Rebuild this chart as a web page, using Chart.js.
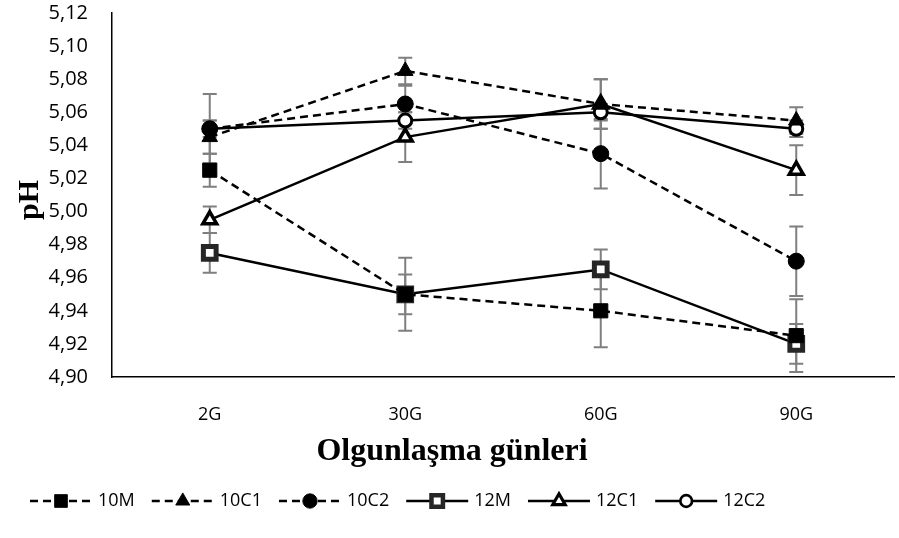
<!DOCTYPE html>
<html><head><meta charset="utf-8">
<script src="https://cdn.jsdelivr.net/npm/chart.js@4"></script>
<style>html,body{margin:0;padding:0;background:#fff}#wrap{width:899px;height:538px}</style>
</head><body><div id="wrap"><canvas id="c" width="899" height="538"></canvas></div>
<script>
const categories = ['2G', '30G', '60G', '90G'];
const seriesNames = ['10M', '10C1', '10C2', '12M', '12C1', '12C2'];
const v10M  = [5.025, 4.950, 4.940, 4.925];
const v10C1 = [5.045, 5.085, 5.065, 5.055];
const v10C2 = [5.050, 5.065, 5.035, 4.970];
const v12M  = [4.975, 4.950, 4.965, 4.920];
const v12C1 = [4.995, 5.045, 5.065, 5.025];
const v12C2 = [5.050, 5.055, 5.060, 5.050];
const e10M  = [0.010, 0.022, 0.022, 0.022];
const e10C1 = [0.010, 0.008, 0.015, 0.008];
const e10C2 = [0.021, 0.011, 0.021, 0.021];
const e12M  = [0.012, 0.012, 0.012, 0.012];
const e12C1 = [0.008, 0.015, 0.015, 0.015];
const e12C2 = [0.005, 0.005, 0.005, 0.005];
const yMin = 4.90, yMax = 5.12, yStep = 0.02;
const yTitle = 'pH';
const xTitle = 'Olgunlaşma günleri';

const values = [v10M, v10C1, v10C2, v12M, v12C1, v12C2];
const errors = [e10M, e10C1, e10C2, e12M, e12C1, e12C2];
const styles = [
  {dash:[8,5], point:'rect', r:10, bg:'#000', bc:'#000', bw:1},
  {dash:[8,5], point:'triangle', r:9, bg:'#000', bc:'#000', bw:1},
  {dash:[8,5], point:'circle', r:8, bg:'#000', bc:'#000', bw:1},
  {dash:[], point:'rect', r:9, bg:'#fff', bc:'#262626', bw:5},
  {dash:[], point:'triangle', r:8, bg:'#fff', bc:'#000', bw:3.5},
  {dash:[], point:'circle', r:6.5, bg:'#fff', bc:'#000', bw:3}
];

const datasets = seriesNames.map((n, i) => ({
  label: n,
  data: values[i],
  errors: errors[i],
  borderColor: '#000',
  borderWidth: 2.5,
  borderDash: styles[i].dash,
  pointStyle: styles[i].point,
  pointRadius: styles[i].r,
  pointBackgroundColor: styles[i].bg,
  pointBorderColor: styles[i].bc,
  pointBorderWidth: styles[i].bw,
  fill: false,
  tension: 0
}));

function drawMarker(ctx, st, x, y, k) {
  ctx.save();
  ctx.setLineDash([]);
  ctx.fillStyle = st.bg; ctx.strokeStyle = st.bc; ctx.lineWidth = st.bw * k;
  const r = st.r * k;
  ctx.beginPath();
  if (st.point === 'rect') {
    const s = Math.SQRT1_2 * r;
    ctx.rect(x - s, y - s, 2 * s, 2 * s);
  } else if (st.point === 'triangle') {
    let rad = 0;
    ctx.moveTo(x + Math.sin(rad) * r, y - Math.cos(rad) * r);
    rad += 2 * Math.PI / 3;
    ctx.lineTo(x + Math.sin(rad) * r, y - Math.cos(rad) * r);
    rad += 2 * Math.PI / 3;
    ctx.lineTo(x + Math.sin(rad) * r, y - Math.cos(rad) * r);
    ctx.closePath();
  } else {
    ctx.arc(x, y, r, 0, Math.PI * 2);
  }
  ctx.fill(); ctx.stroke();
  ctx.restore();
}

const errorBars = {
  id: 'errorBars',
  beforeDatasetsDraw(chart) {
    const {ctx, scales: {x, y}} = chart;
    ctx.save();
    ctx.strokeStyle = '#7f7f7f'; ctx.lineWidth = 2; ctx.setLineDash([]);
    chart.data.datasets.forEach(ds => {
      ds.data.forEach((v, i) => {
        const e = ds.errors[i];
        const px = x.getPixelForValue(i);
        const t = y.getPixelForValue(v + e), b = y.getPixelForValue(v - e);
        ctx.beginPath();
        ctx.moveTo(px, t); ctx.lineTo(px, b);
        ctx.moveTo(px - 7, t); ctx.lineTo(px + 7, t);
        ctx.moveTo(px - 7, b); ctx.lineTo(px + 7, b);
        ctx.stroke();
      });
    });
    ctx.restore();
  }
};

const titlesAndLegend = {
  id: 'titlesAndLegend',
  afterDraw(chart) {
    const ctx = chart.ctx;
    ctx.save();
    ctx.fillStyle = '#000';
    ctx.textAlign = 'center'; ctx.textBaseline = 'middle';
    ctx.font = 'bold 32px "Liberation Serif"';
    ctx.fillText(xTitle, 452, 452);
    ctx.save();
    ctx.translate(30, 200);
    ctx.rotate(-Math.PI / 2);
    ctx.font = 'bold 30px "Liberation Serif"';
    ctx.fillText(yTitle, 0, 0);
    ctx.restore();
    ctx.font = '18px "Open Sans"';
    const lineLen = 62, gapText = 6, gapItem = 17;
    const widths = seriesNames.map(n => lineLen + gapText + ctx.measureText(n).width);
    let x = 30;
    const y = 501;
    seriesNames.forEach((n, i) => {
      const st = styles[i];
      ctx.strokeStyle = '#000'; ctx.lineWidth = 2.5; ctx.setLineDash(st.dash);
      ctx.beginPath(); ctx.moveTo(x, y); ctx.lineTo(x + lineLen, y); ctx.stroke();
      drawMarker(ctx, st, x + lineLen / 2, y, 0.9);
      ctx.fillStyle = '#000'; ctx.textBaseline = 'middle'; ctx.textAlign = 'left';
      ctx.fillText(n, x + lineLen + gapText, y);
      x += widths[i] + gapItem;
    });
    ctx.restore();
  }
};

new Chart(document.getElementById('c'), {
  type: 'line',
  data: {labels: categories, datasets},
  options: {
    responsive: false,
    animation: false,
    layout: {autoPadding: false, padding: {left: 0, right: 5, top: 13, bottom: 68}},
    plugins: {legend: {display: false}, tooltip: {enabled: false}},
    scales: {
      x: {
        offset: true,
        grid: {display: false, drawTicks: false},
        border: {display: true, color: '#000', width: 1.5},
        ticks: {color: '#000', font: {family: 'Open Sans', size: 18}, padding: 27},
        afterFit(s) { s.height = 93; s.paddingLeft = 0; s.paddingRight = 0; }
      },
      y: {
        min: yMin, max: yMax,
        grid: {display: false, drawTicks: false},
        border: {display: true, color: '#000', width: 1.5},
        ticks: {stepSize: yStep, color: '#000', font: {family: 'Open Sans', size: 20}, padding: 24,
          callback: v => v.toFixed(2).replace('.', ',')},
        afterFit(s) { s.width = 112; s.paddingTop = 0; s.paddingBottom = 0; }
      }
    }
  },
  plugins: [errorBars, titlesAndLegend]
});
</script>
</body></html>
